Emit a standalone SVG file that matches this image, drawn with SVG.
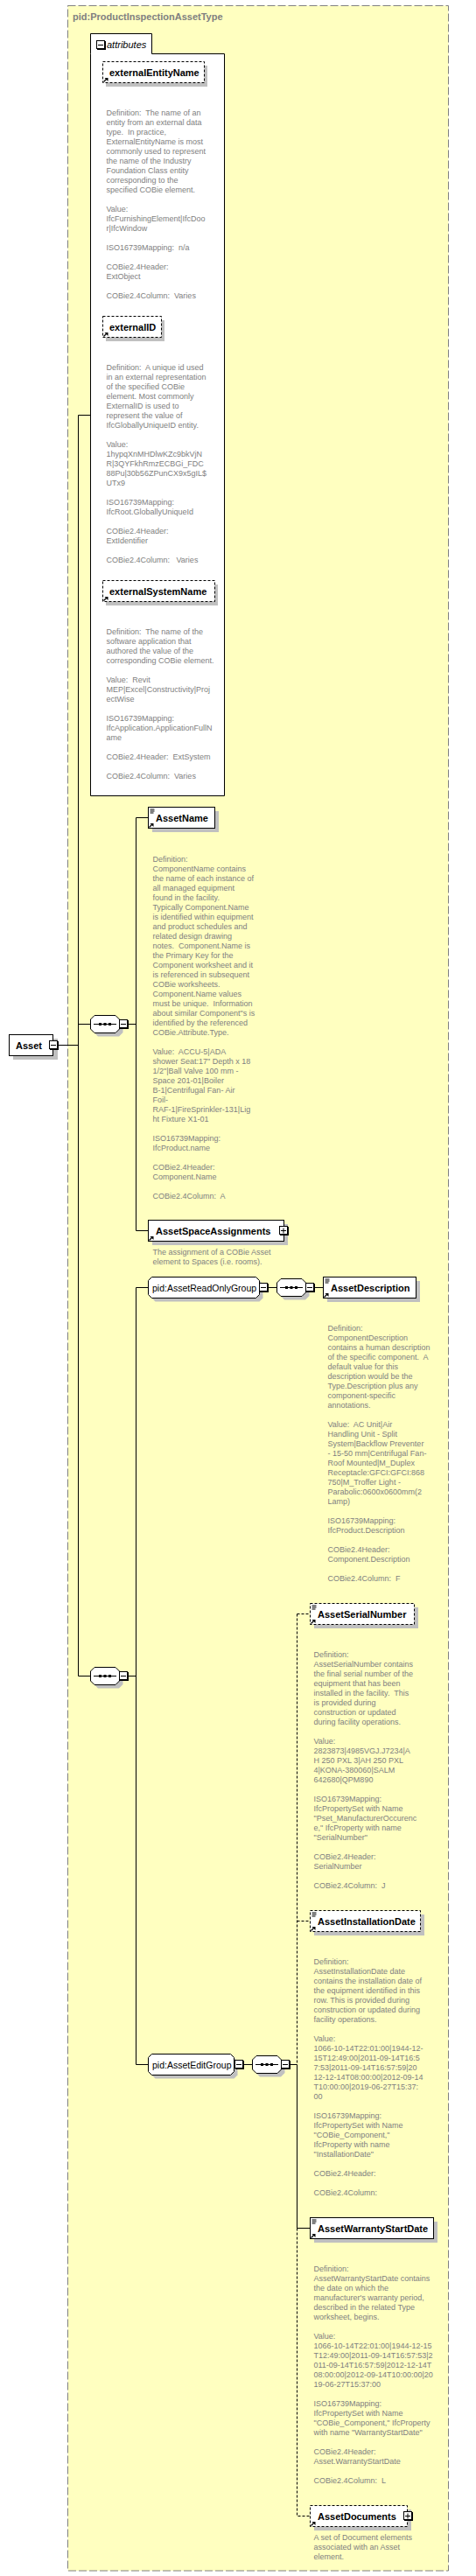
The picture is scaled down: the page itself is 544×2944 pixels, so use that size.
<svg xmlns="http://www.w3.org/2000/svg" width="544" height="2944" viewBox="0 0 544 2944">
<style>
.bg{fill:#ffffc0;stroke:#808080;stroke-width:1;stroke-dasharray:9,3}
.sh{fill:#c0c0c0}
.box{fill:#fff;stroke:#000;stroke-width:1}
.opt{fill:#fff;stroke:#000;stroke-width:1;stroke-dasharray:3,2}
.lbl{font-family:"Liberation Sans",Arial,sans-serif;font-size:11px;font-weight:bold;fill:#000}
.grp{font-family:"Liberation Sans",Arial,sans-serif;font-size:10.5px;fill:#000}
.ttl{font-family:"Liberation Sans",Arial,sans-serif;font-size:11px;font-weight:bold;fill:#808080}
.att{font-family:"Liberation Sans",Arial,sans-serif;font-size:11px;font-style:italic;fill:#000}
.doc{font-family:"Liberation Sans",Arial,sans-serif;font-size:9px;fill:#808080}
.c{stroke:#000;stroke-width:1;fill:none}
.cd{stroke:#000;stroke-width:1;fill:none;stroke-dasharray:3,2}
</style>
<defs>
<g id="minus"><rect x="1" y="1" width="10" height="10" fill="#000"/><rect x="0.5" y="0.5" width="9" height="9" fill="#fff" stroke="#000"/><path d="M2,5.5 H8" stroke="#000"/></g>
<g id="plus"><rect x="1" y="1" width="10" height="10" fill="#000"/><rect x="0.5" y="0.5" width="9" height="9" fill="#fff" stroke="#000"/><path d="M2,5.5 H8 M5,2.5 V8.5" stroke="#000"/></g>
<g id="ref"><path d="M1,5.5 L4.5,2" stroke="#000" stroke-width="1.3"/><path d="M2,1 H6 V5 Z" fill="#000"/></g>
<g id="docic"><path d="M1.5,2 H6.5 M1.5,4 H6.5 M1.5,6 H5.5" stroke="#000" stroke-width="1"/></g>
<g id="seq">
<path d="M9,4.5 H33 L37.5,9 V20 L33,24.5 H9 L4.5,20 V9 Z" fill="#c0c0c0"/>
<path d="M5,0.5 H29 L33.5,5 V16 L29,20.5 H5 L0.5,16 V5 Z" fill="#fff" stroke="#000"/>
<path d="M4,10.5 H30" stroke="#000"/>
<rect x="10" y="9" width="3" height="3" fill="#000"/><rect x="15.5" y="9" width="3" height="3" fill="#000"/><rect x="21" y="9" width="3" height="3" fill="#000"/>
<use href="#minus" x="33" y="5"/>
</g>
</defs>

<g id="complexType">
<rect class="bg" x="77.5" y="6.5" width="435" height="2931.5"/>
<text class="ttl" x="83" y="23">pid:ProductInspectionAssetType</text>
</g>

<g id="connectors">
<path class="c" d="M66,1194.5 H89.5 M89.5,474.5 V1915.5 M89.5,474.5 H103 M89.5,1170.5 H103 M89.5,1915.5 H103"/>
<path class="c" d="M146,1170.5 H155.5 M155.5,934.5 V1406.5 M155.5,934.5 H169 M155.5,1406.5 H169"/>
<path class="c" d="M146,1915.5 H155.5 M155.5,1471.5 V2359.5 M155.5,1471.5 H169 M155.5,2359.5 H169"/>
<path class="c" d="M307,1471.5 H316 M359,1471.5 H369"/>
<path class="c" d="M279,2359.5 H288 M331,2359.5 H339.5"/>
<path class="cd" d="M339.5,1844.5 V2359.5 M339.5,1844.5 H354 M339.5,2195.5 H354"/>
<path class="c" d="M339.5,2359.5 V2546.5 H354"/>
<path class="cd" d="M339.5,2546.5 V2875.5 H354"/>
</g>

<g id="attributes">
<path class="box" d="M103.5,61.5 V38.5 H173.5 V61.5 H256.5 V909.5 H103.5 Z"/>
<use href="#minus" x="110" y="46"/>
<text class="att" x="122" y="55">attributes</text>
</g>

<g id="externalEntityName">
<rect class="sh" x="121" y="75" width="116" height="24"/>
<rect class="opt" x="117.5" y="70.5" width="116" height="24"/>
<use href="#ref" x="117.5" y="88"/>
<text class="lbl" x="125" y="86.5">externalEntityName</text>
<text class="doc" xml:space="preserve"><tspan x="121.5" y="132">Definition:  The name of an</tspan><tspan x="121.5" y="143">entity from an external data</tspan><tspan x="121.5" y="154">type.  In practice,</tspan><tspan x="121.5" y="165">ExternalEntityName is most</tspan><tspan x="121.5" y="176">commonly used to represent</tspan><tspan x="121.5" y="187">the name of the Industry</tspan><tspan x="121.5" y="198">Foundation Class entity</tspan><tspan x="121.5" y="209">corresponding to the</tspan><tspan x="121.5" y="220">specified COBie element.</tspan><tspan x="121.5" y="242">Value:</tspan><tspan x="121.5" y="253">IfcFurnishingElement|IfcDoo</tspan><tspan x="121.5" y="264">r|IfcWindow</tspan><tspan x="121.5" y="286">ISO16739Mapping:  n/a</tspan><tspan x="121.5" y="308">COBie2.4Header:</tspan><tspan x="121.5" y="319">ExtObject</tspan><tspan x="121.5" y="341">COBie2.4Column:  Varies</tspan></text>
</g>

<g id="externalID">
<rect class="sh" x="121" y="366" width="67" height="24"/>
<rect class="opt" x="117.5" y="361.5" width="67" height="24"/>
<use href="#ref" x="117.5" y="379"/>
<text class="lbl" x="125" y="377.5">externalID</text>
<text class="doc" xml:space="preserve"><tspan x="121.5" y="423">Definition:  A unique id used</tspan><tspan x="121.5" y="434">in an external representation</tspan><tspan x="121.5" y="445">of the specified COBie</tspan><tspan x="121.5" y="456">element. Most commonly</tspan><tspan x="121.5" y="467">ExternalID is used to</tspan><tspan x="121.5" y="478">represent the value of</tspan><tspan x="121.5" y="489">IfcGloballyUniqueID entity.</tspan><tspan x="121.5" y="511">Value:</tspan><tspan x="121.5" y="522">1hypqXnMHDlwKZc9bkVjN</tspan><tspan x="121.5" y="533">R|3QYFkhRmzECBGi_FDC</tspan><tspan x="121.5" y="544">88Pu|30b56ZPunCX9x5gIL$</tspan><tspan x="121.5" y="555">UTx9</tspan><tspan x="121.5" y="577">ISO16739Mapping:</tspan><tspan x="121.5" y="588">IfcRoot.GloballyUniqueId</tspan><tspan x="121.5" y="610">COBie2.4Header:</tspan><tspan x="121.5" y="621">ExtIdentifier</tspan><tspan x="121.5" y="643">COBie2.4Column:   Varies</tspan></text>
</g>

<g id="externalSystemName">
<rect class="sh" x="121" y="668" width="128" height="24"/>
<rect class="opt" x="117.5" y="663.5" width="128" height="24"/>
<use href="#ref" x="117.5" y="681"/>
<text class="lbl" x="125" y="679.5">externalSystemName</text>
<text class="doc" xml:space="preserve"><tspan x="121.5" y="725">Definition:  The name of the</tspan><tspan x="121.5" y="736">software application that</tspan><tspan x="121.5" y="747">authored the value of the</tspan><tspan x="121.5" y="758">corresponding COBie element.</tspan><tspan x="121.5" y="780">Value:  Revit</tspan><tspan x="121.5" y="791">MEP|Excel|Constructivity|Proj</tspan><tspan x="121.5" y="802">ectWise</tspan><tspan x="121.5" y="824">ISO16739Mapping:</tspan><tspan x="121.5" y="835">IfcApplication.ApplicationFullN</tspan><tspan x="121.5" y="846">ame</tspan><tspan x="121.5" y="868">COBie2.4Header:  ExtSystem</tspan><tspan x="121.5" y="890">COBie2.4Column:  Varies</tspan></text>
</g>

<g id="Asset">
<rect class="sh" x="15" y="1187" width="51" height="24"/>
<rect class="box" x="10.5" y="1182.5" width="50" height="24"/>
<text class="lbl" x="18" y="1198.5">Asset</text>
<use href="#minus" x="56" y="1189"/>
</g>

<g id="sequence1"><use href="#seq" x="103" y="1160"/></g>
<g id="sequence2"><use href="#seq" x="103" y="1905"/></g>

<g id="AssetName">
<rect class="sh" x="174" y="927" width="76" height="24"/>
<rect class="box" x="169.5" y="922.5" width="76" height="24"/>
<use href="#docic" x="170" y="923"/>
<use href="#ref" x="169.5" y="940"/>
<text class="lbl" x="178" y="938.5">AssetName</text>
<text class="doc" xml:space="preserve"><tspan x="174.5" y="984.5">Definition:</tspan><tspan x="174.5" y="995.5">ComponentName contains</tspan><tspan x="174.5" y="1006.5">the name of each instance of</tspan><tspan x="174.5" y="1017.5">all managed equipment</tspan><tspan x="174.5" y="1028.5">found in the facility.</tspan><tspan x="174.5" y="1039.5">Typically Component.Name</tspan><tspan x="174.5" y="1050.5">is identified within equipment</tspan><tspan x="174.5" y="1061.5">and product schedules and</tspan><tspan x="174.5" y="1072.5">related design drawing</tspan><tspan x="174.5" y="1083.5">notes.  Component.Name is</tspan><tspan x="174.5" y="1094.5">the Primary Key for the</tspan><tspan x="174.5" y="1105.5">Component worksheet and it</tspan><tspan x="174.5" y="1116.5">is referenced in subsequent</tspan><tspan x="174.5" y="1127.5">COBie worksheets.</tspan><tspan x="174.5" y="1138.5">Component.Name values</tspan><tspan x="174.5" y="1149.5">must be unique.  Information</tspan><tspan x="174.5" y="1160.5">about similar Component"s is</tspan><tspan x="174.5" y="1171.5">identified by the referenced</tspan><tspan x="174.5" y="1182.5">COBie.Attribute.Type.</tspan><tspan x="174.5" y="1204.5">Value:  ACCU-5|ADA</tspan><tspan x="174.5" y="1215.5">shower Seat:17" Depth x 18</tspan><tspan x="174.5" y="1226.5">1/2"|Ball Valve 100 mm -</tspan><tspan x="174.5" y="1237.5">Space 201-01|Boiler</tspan><tspan x="174.5" y="1248.5">B-1|Centrifugal Fan- Air</tspan><tspan x="174.5" y="1259.5">Foil-</tspan><tspan x="174.5" y="1270.5">RAF-1|FireSprinkler-131|Lig</tspan><tspan x="174.5" y="1281.5">ht Fixture X1-01</tspan><tspan x="174.5" y="1303.5">ISO16739Mapping:</tspan><tspan x="174.5" y="1314.5">IfcProduct.name</tspan><tspan x="174.5" y="1336.5">COBie2.4Header:</tspan><tspan x="174.5" y="1347.5">Component.Name</tspan><tspan x="174.5" y="1369.5">COBie2.4Column:  A</tspan></text>
</g>

<g id="AssetSpaceAssignments">
<rect class="sh" x="174" y="1399" width="155" height="24"/>
<rect class="box" x="169.5" y="1394.5" width="155" height="24"/>
<use href="#ref" x="169.5" y="1412"/>
<text class="lbl" x="178" y="1410.5">AssetSpaceAssignments</text>
<use href="#plus" x="319" y="1401"/>
<text class="doc" xml:space="preserve"><tspan x="174.5" y="1434">The assignment of a COBie Asset</tspan><tspan x="174.5" y="1445">element to Spaces (i.e. rooms).</tspan></text>
</g>

<g id="AssetReadOnlyGroup">
<path class="sh" d="M177.5,1463.5 H296.5 L300.5,1467.5 V1483.5 L296.5,1487.5 H177.5 L173.5,1483.5 V1467.5 Z"/>
<path class="box" d="M173.5,1459.5 H292.5 L296.5,1463.5 V1479.5 L292.5,1483.5 H173.5 L169.5,1479.5 V1463.5 Z"/>
<text class="grp" x="174" y="1475.5">pid:AssetReadOnlyGroup</text>
<use href="#minus" x="296" y="1466"/>
</g>
<g id="sequence3"><use href="#seq" x="316" y="1461"/></g>

<g id="AssetDescription">
<rect class="sh" x="374" y="1464" width="106" height="24"/>
<rect class="box" x="369.5" y="1459.5" width="106" height="24"/>
<use href="#docic" x="370" y="1460"/>
<use href="#ref" x="369.5" y="1477"/>
<text class="lbl" x="378" y="1475.5">AssetDescription</text>
<text class="doc" xml:space="preserve"><tspan x="374.5" y="1521">Definition:</tspan><tspan x="374.5" y="1532">ComponentDescription</tspan><tspan x="374.5" y="1543">contains a human description</tspan><tspan x="374.5" y="1554">of the specific component.  A</tspan><tspan x="374.5" y="1565">default value for this</tspan><tspan x="374.5" y="1576">description would be the</tspan><tspan x="374.5" y="1587">Type.Description plus any</tspan><tspan x="374.5" y="1598">component-specific</tspan><tspan x="374.5" y="1609">annotations.</tspan><tspan x="374.5" y="1631">Value:  AC Unit|Air</tspan><tspan x="374.5" y="1642">Handling Unit - Split</tspan><tspan x="374.5" y="1653">System|Backflow Preventer</tspan><tspan x="374.5" y="1664">- 15-50 mm|Centrifugal Fan-</tspan><tspan x="374.5" y="1675">Roof Mounted|M_Duplex</tspan><tspan x="374.5" y="1686">Receptacle:GFCI:GFCI:868</tspan><tspan x="374.5" y="1697">750|M_Troffer Light -</tspan><tspan x="374.5" y="1708">Parabolic:0600x0600mm(2</tspan><tspan x="374.5" y="1719">Lamp)</tspan><tspan x="374.5" y="1741">ISO16739Mapping:</tspan><tspan x="374.5" y="1752">IfcProduct.Description</tspan><tspan x="374.5" y="1774">COBie2.4Header:</tspan><tspan x="374.5" y="1785">Component.Description</tspan><tspan x="374.5" y="1807">COBie2.4Column:  F</tspan></text>
</g>

<g id="AssetEditGroup">
<path class="sh" d="M177.5,2351.5 H267.5 L271.5,2355.5 V2371.5 L267.5,2375.5 H177.5 L173.5,2371.5 V2355.5 Z"/>
<path class="box" d="M173.5,2347.5 H263.5 L267.5,2351.5 V2367.5 L263.5,2371.5 H173.5 L169.5,2367.5 V2351.5 Z"/>
<text class="grp" x="174" y="2363.5">pid:AssetEditGroup</text>
<use href="#minus" x="268" y="2354"/>
</g>
<g id="sequence4"><use href="#seq" x="288" y="2349"/></g>

<g id="AssetSerialNumber">
<rect class="sh" x="359" y="1837" width="119" height="24"/>
<rect class="opt" x="354.5" y="1832.5" width="119" height="24"/>
<use href="#docic" x="355" y="1833"/>
<use href="#ref" x="354.5" y="1850"/>
<text class="lbl" x="363" y="1848.5">AssetSerialNumber</text>
<text class="doc" xml:space="preserve"><tspan x="358.5" y="1894">Definition:</tspan><tspan x="358.5" y="1905">AssetSerialNumber contains</tspan><tspan x="358.5" y="1916">the final serial number of the</tspan><tspan x="358.5" y="1927">equipment that has been</tspan><tspan x="358.5" y="1938">installed in the facility.  This</tspan><tspan x="358.5" y="1949">is provided during</tspan><tspan x="358.5" y="1960">construction or updated</tspan><tspan x="358.5" y="1971">during facility operations.</tspan><tspan x="358.5" y="1993">Value:</tspan><tspan x="358.5" y="2004">2823873|4985VGJ.J7234|A</tspan><tspan x="358.5" y="2015">H 250 PXL 3|AH 250 PXL</tspan><tspan x="358.5" y="2026">4|KONA-380060|SALM</tspan><tspan x="358.5" y="2037">642680|QPM890</tspan><tspan x="358.5" y="2059">ISO16739Mapping:</tspan><tspan x="358.5" y="2070">IfcPropertySet with Name</tspan><tspan x="358.5" y="2081">"Pset_ManufacturerOccurenc</tspan><tspan x="358.5" y="2092">e," IfcProperty with name</tspan><tspan x="358.5" y="2103">"SerialNumber"</tspan><tspan x="358.5" y="2125">COBie2.4Header:</tspan><tspan x="358.5" y="2136">SerialNumber</tspan><tspan x="358.5" y="2158">COBie2.4Column:  J</tspan></text>
</g>

<g id="AssetInstallationDate">
<rect class="sh" x="359" y="2188" width="126" height="24"/>
<rect class="opt" x="354.5" y="2183.5" width="126" height="24"/>
<use href="#docic" x="355" y="2184"/>
<use href="#ref" x="354.5" y="2201"/>
<text class="lbl" x="363" y="2199.5">AssetInstallationDate</text>
<text class="doc" xml:space="preserve"><tspan x="358.5" y="2245">Definition:</tspan><tspan x="358.5" y="2256">AssetInstallationDate date</tspan><tspan x="358.5" y="2267">contains the installation date of</tspan><tspan x="358.5" y="2278">the equipment identified in this</tspan><tspan x="358.5" y="2289">row. This is provided during</tspan><tspan x="358.5" y="2300">construction or updated during</tspan><tspan x="358.5" y="2311">facility operations.</tspan><tspan x="358.5" y="2333">Value:</tspan><tspan x="358.5" y="2344">1066-10-14T22:01:00|1944-12-</tspan><tspan x="358.5" y="2355">15T12:49:00|2011-09-14T16:5</tspan><tspan x="358.5" y="2366">7:53|2011-09-14T16:57:59|20</tspan><tspan x="358.5" y="2377">12-12-14T08:00:00|2012-09-14</tspan><tspan x="358.5" y="2388">T10:00:00|2019-06-27T15:37:</tspan><tspan x="358.5" y="2399">00</tspan><tspan x="358.5" y="2421">ISO16739Mapping:</tspan><tspan x="358.5" y="2432">IfcPropertySet with Name</tspan><tspan x="358.5" y="2443">"COBie_Component,"</tspan><tspan x="358.5" y="2454">IfcProperty with name</tspan><tspan x="358.5" y="2465">"InstallationDate"</tspan><tspan x="358.5" y="2487">COBie2.4Header:</tspan><tspan x="358.5" y="2509">COBie2.4Column:</tspan></text>
</g>

<g id="AssetWarrantyStartDate">
<rect class="sh" x="359" y="2539" width="141" height="24"/>
<rect class="box" x="354.5" y="2534.5" width="141" height="24"/>
<use href="#docic" x="355" y="2535"/>
<use href="#ref" x="354.5" y="2552"/>
<text class="lbl" x="363" y="2550.5">AssetWarrantyStartDate</text>
<text class="doc" xml:space="preserve"><tspan x="358.5" y="2596">Definition:</tspan><tspan x="358.5" y="2607">AssetWarrantyStartDate contains</tspan><tspan x="358.5" y="2618">the date on which the</tspan><tspan x="358.5" y="2629">manufacturer's warranty period,</tspan><tspan x="358.5" y="2640">described in the related Type</tspan><tspan x="358.5" y="2651">worksheet, begins.</tspan><tspan x="358.5" y="2673">Value:</tspan><tspan x="358.5" y="2684">1066-10-14T22:01:00|1944-12-15</tspan><tspan x="358.5" y="2695">T12:49:00|2011-09-14T16:57:53|2</tspan><tspan x="358.5" y="2706">011-09-14T16:57:59|2012-12-14T</tspan><tspan x="358.5" y="2717">08:00:00|2012-09-14T10:00:00|20</tspan><tspan x="358.5" y="2728">19-06-27T15:37:00</tspan><tspan x="358.5" y="2750">ISO16739Mapping:</tspan><tspan x="358.5" y="2761">IfcPropertySet with Name</tspan><tspan x="358.5" y="2772">"COBie_Component," IfcProperty</tspan><tspan x="358.5" y="2783">with name "WarrantyStartDate"</tspan><tspan x="358.5" y="2805">COBie2.4Header:</tspan><tspan x="358.5" y="2816">Asset.WarrantyStartDate</tspan><tspan x="358.5" y="2838">COBie2.4Column:  L</tspan></text>
</g>

<g id="AssetDocuments">
<rect class="sh" x="359" y="2868" width="111" height="24"/>
<rect class="opt" x="354.5" y="2863.5" width="111" height="24"/>
<use href="#ref" x="354.5" y="2881"/>
<text class="lbl" x="363" y="2879.5">AssetDocuments</text>
<use href="#plus" x="461" y="2870"/>
<text class="doc" xml:space="preserve"><tspan x="358.5" y="2903">A set of Document elements</tspan><tspan x="358.5" y="2914">associated with an Asset</tspan><tspan x="358.5" y="2925">element.</tspan></text>
</g>
</svg>
